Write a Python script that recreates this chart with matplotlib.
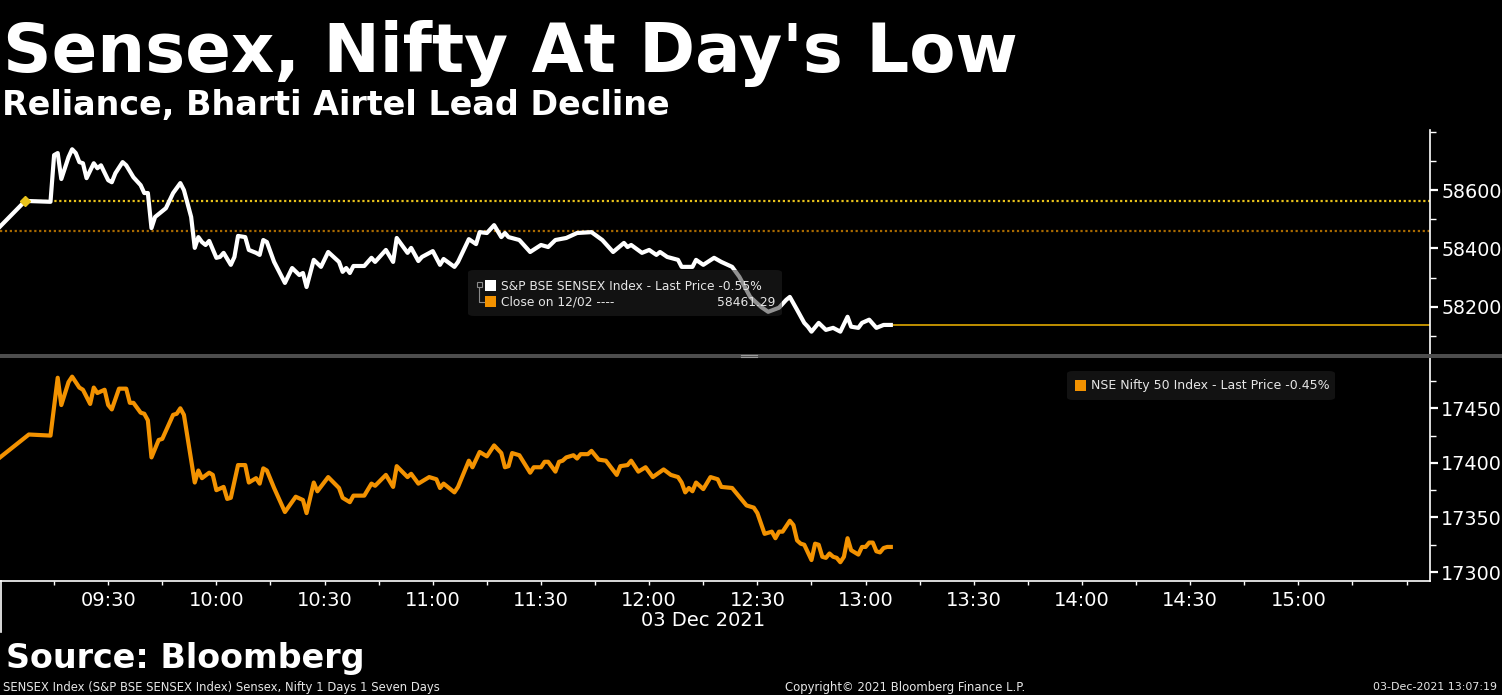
import pandas as pd
import matplotlib
matplotlib.use("Agg")
import matplotlib.pyplot as plt
from matplotlib.patches import FancyBboxPatch, Rectangle
from matplotlib.lines import Line2D

DAY = "2021-12-03 "

sensex_times = ["09:00", "09:07", "09:14", "09:15", "09:16", "09:17", "09:19", "09:20", "09:21", "09:22",
                "09:23", "09:24", "09:26", "09:27", "09:28", "09:30", "09:31", "09:32", "09:34", "09:35",
                "09:37", "09:39", "09:40", "09:41", "09:42", "09:43", "09:45", "09:46", "09:48", "09:50",
                "09:51", "09:53", "09:54", "09:55", "09:56", "09:57", "09:58", "10:00", "10:01", "10:02",
                "10:04", "10:05", "10:06", "10:08", "10:09", "10:11", "10:12", "10:13", "10:14", "10:16",
                "10:19", "10:21", "10:23", "10:24", "10:25", "10:27", "10:29", "10:31", "10:34", "10:35",
                "10:36", "10:37", "10:38", "10:41", "10:43", "10:44", "10:47", "10:49", "10:50", "10:53",
                "10:54", "10:56", "10:57", "11:00", "11:02", "11:03", "11:06", "11:07", "11:10", "11:12",
                "11:13", "11:15", "11:17", "11:19", "11:20", "11:21", "11:24", "11:27", "11:30", "11:32",
                "11:34", "11:37", "11:40", "11:44", "11:47", "11:50", "11:53", "11:54", "11:55", "11:58",
                "12:00", "12:02", "12:03", "12:05", "12:08", "12:09", "12:12", "12:13", "12:15", "12:18",
                "12:20", "12:23", "12:25", "12:28", "12:31", "12:33", "12:36", "12:38", "12:39", "12:41",
                "12:43", "12:44", "12:45", "12:47", "12:49", "12:51", "12:53", "12:55", "12:56", "12:58",
                "12:59", "13:01", "13:03", "13:05", "13:07"]
sensex_vals = [58475, 58563, 58560, 58720, 58727, 58638, 58713, 58740, 58727, 58696,
               58692, 58641, 58692, 58675, 58685, 58634, 58627, 58658, 58696, 58685,
               58644, 58617, 58590, 58590, 58470, 58508, 58528, 58538, 58590, 58624,
               58600, 58508, 58402, 58439, 58422, 58412, 58426, 58368, 58371, 58385,
               58344, 58371, 58443, 58439, 58395, 58385, 58378, 58429, 58422, 58354,
               58282, 58333, 58309, 58316, 58268, 58361, 58337, 58388, 58354, 58320,
               58333, 58316, 58340, 58340, 58368, 58354, 58395, 58354, 58436, 58385,
               58402, 58357, 58371, 58391, 58344, 58364, 58337, 58354, 58432, 58415,
               58456, 58453, 58480, 58439, 58453, 58439, 58429, 58388, 58412, 58405,
               58429, 58436, 58453, 58456, 58429, 58388, 58419, 58405, 58412, 58385,
               58395, 58378, 58388, 58371, 58361, 58337, 58337, 58361, 58344, 58368,
               58354, 58337, 58303, 58234, 58200, 58183, 58197, 58224, 58234, 58190,
               58145, 58132, 58115, 58145, 58121, 58128, 58115, 58166, 58132, 58128,
               58145, 58156, 58128, 58138, 58138]

nifty_times = ["09:00", "09:08", "09:14", "09:16", "09:17", "09:19", "09:20", "09:22", "09:23", "09:25",
               "09:26", "09:27", "09:29", "09:30", "09:31", "09:33", "09:35", "09:36", "09:37", "09:39",
               "09:40", "09:41", "09:42", "09:44", "09:45", "09:48", "09:49", "09:50", "09:51", "09:54",
               "09:55", "09:56", "09:58", "09:59", "10:00", "10:02", "10:03", "10:04", "10:06", "10:08",
               "10:09", "10:11", "10:12", "10:13", "10:14", "10:16", "10:19", "10:22", "10:24", "10:25",
               "10:27", "10:28", "10:31", "10:34", "10:35", "10:37", "10:38", "10:41", "10:43", "10:44",
               "10:47", "10:49", "10:50", "10:53", "10:54", "10:56", "10:59", "11:01", "11:02", "11:03",
               "11:06", "11:07", "11:10", "11:11", "11:13", "11:15", "11:17", "11:19", "11:20", "11:21",
               "11:22", "11:24", "11:27", "11:28", "11:30", "11:31", "11:32", "11:34", "11:35", "11:36",
               "11:37", "11:39", "11:40", "11:41", "11:43", "11:44", "11:46", "11:48", "11:51", "11:52",
               "11:54", "11:55", "11:57", "11:59", "12:01", "12:04", "12:06", "12:08", "12:09", "12:10",
               "12:11", "12:12", "12:13", "12:15", "12:17", "12:19", "12:20", "12:23", "12:25", "12:27",
               "12:29", "12:30", "12:32", "12:34", "12:35", "12:36", "12:37", "12:39", "12:40", "12:41",
               "12:42", "12:43", "12:45", "12:46", "12:47", "12:48", "12:49", "12:50", "12:51", "12:52",
               "12:53", "12:54", "12:55", "12:56", "12:58", "12:59", "13:00", "13:01", "13:02", "13:03",
               "13:04", "13:05", "13:06", "13:07"]
nifty_vals = [17405, 17426, 17425, 17478, 17453, 17474, 17479, 17469, 17467, 17454,
              17469, 17464, 17467, 17453, 17449, 17468, 17468, 17455, 17455, 17446,
              17445, 17439, 17405, 17421, 17422, 17444, 17445, 17450, 17444, 17382,
              17393, 17386, 17391, 17389, 17375, 17378, 17367, 17368, 17398, 17398,
              17382, 17386, 17381, 17395, 17393, 17377, 17355, 17369, 17366, 17354,
              17382, 17374, 17387, 17377, 17368, 17364, 17370, 17370, 17381, 17379,
              17389, 17378, 17397, 17387, 17390, 17381, 17387, 17385, 17377, 17381,
              17373, 17378, 17402, 17396, 17410, 17406, 17416, 17409, 17396, 17397,
              17409, 17407, 17391, 17396, 17396, 17401, 17401, 17392, 17401, 17402,
              17405, 17407, 17404, 17408, 17408, 17411, 17403, 17402, 17389, 17397,
              17398, 17402, 17392, 17396, 17387, 17394, 17389, 17387, 17382, 17373,
              17377, 17374, 17382, 17376, 17387, 17385, 17378, 17377, 17369, 17361,
              17359, 17354, 17335, 17337, 17331, 17337, 17337, 17347, 17343, 17329,
              17326, 17325, 17311, 17326, 17325, 17314, 17313, 17317, 17314, 17313,
              17309, 17314, 17331, 17320, 17316, 17323, 17323, 17327, 17327, 17319,
              17318, 17322, 17323, 17323]

sensex_prev_close = 58461.29
sensex_open_level = 58562
sensex_last = 58138

W, H = 1502, 695


def px(x, y):
    return x / W, 1 - y / H


def t(s):
    return pd.Timestamp(DAY + s)


sx = pd.to_datetime([DAY + s for s in sensex_times])
nx = pd.to_datetime([DAY + s for s in nifty_times])
x0 = t("09:00")
x1 = x0 + pd.Timedelta(minutes=396.5)

WHITE = "#ffffff"
ORANGE = "#f39200"
GOLD = "#e9c21b"
BROWN = "#a96a00"
TXT = "#e6e6e6"

fig = plt.figure(figsize=(W / 100, H / 100), dpi=100, facecolor="black")

ax1 = fig.add_axes([0, 1 - 355 / H, 1430 / W, 225 / H])
ax2 = fig.add_axes([0, 1 - 581 / H, 1430 / W, 224 / H])

for ax in (ax1, ax2):
    ax.set_facecolor("black")
    for side in ("left", "top", "bottom"):
        ax.spines[side].set_visible(False)
    ax.spines["right"].set_color(WHITE)
    ax.spines["right"].set_linewidth(1.2)
    ax.yaxis.tick_right()
    ax.tick_params(axis="y", which="major", colors=WHITE, length=6, width=1.6,
                   labelsize=13.8, pad=2)
    ax.tick_params(axis="y", which="minor", colors=WHITE, length=4, width=1)
    ax.set_xlim(x0, x1)

# Sensex panel
ax1.plot(sx, sensex_vals, color=WHITE, lw=3, solid_joinstyle="round", zorder=3)
ax1.axhline(sensex_prev_close, color=BROWN, lw=1.6, ls=(0, (1, 1.2)), zorder=2)
ax1.hlines(sensex_open_level, t("09:07"), x1, color=GOLD, lw=1.6, ls=(0, (1, 1.2)), zorder=2)
ax1.plot([t("09:07")], [sensex_open_level], marker="D", ms=5, color=GOLD, zorder=4)
ax1.hlines(sensex_last, sx[-1], x1, color="#f2b600", lw=1.1, zorder=2)
ax1.set_ylim(58035, 58806)
ax1.set_yticks([58200, 58400, 58600])
ax1.set_yticks([58100, 58300, 58500, 58700, 58800], minor=True)
ax1.tick_params(axis="x", which="both", bottom=False, labelbottom=False)

# Nifty panel
ax2.plot(nx, nifty_vals, color=ORANGE, lw=3, solid_joinstyle="round", zorder=3)
ax2.set_ylim(17291.8, 17497)
ax2.set_yticks([17300, 17350, 17400, 17450])
ax2.set_yticks([17325, 17375, 17425, 17475], minor=True)
ax2.spines["bottom"].set_visible(True)
ax2.spines["bottom"].set_color(WHITE)
ax2.spines["bottom"].set_linewidth(1.2)

major = pd.date_range(t("09:30"), t("15:30"), freq="30min")
minor = pd.date_range(t("09:15"), t("15:15"), freq="30min")
ax2.set_xticks(major)
ax2.set_xticklabels([d.strftime("%H:%M") if d < t("15:30") else "" for d in major])
ax2.set_xticks(minor, minor=True)
ax2.tick_params(axis="x", which="both", colors=WHITE, length=3, width=1,
                labelsize=14, pad=4, direction="out")

fig.text(*px(703, 620), "03 Dec 2021", color=WHITE, fontsize=14, ha="center", va="center")
fig.add_artist(Line2D([1 / W, 1 / W], [1 - 581 / H, 1 - 632 / H], color=WHITE, lw=1.2))

# separator between panels
fig.add_artist(Rectangle(px(0, 358), 1, 4.5 / H, color="#4d4d4d", lw=0, zorder=5))
for yy in (355.2, 357.4):
    fig.add_artist(Line2D([741 / W, 757 / W], [1 - yy / H] * 2, color="#9a9a9a", lw=0.8, zorder=6))

# legend box 1
fig.add_artist(FancyBboxPatch(px(468, 316), 314 / W, 46 / H,
                              boxstyle="round,pad=0,rounding_size=0.004",
                              fc="#242424", ec="none", alpha=0.5, zorder=6))
fig.add_artist(Rectangle(px(476.5, 287), 5 / W, 5 / H, fc="none", ec="#8a8a8a", lw=0.8, zorder=7))
fig.add_artist(Line2D([479 / W, 479 / W, 484 / W], [1 - 287 / H, 1 - 302 / H, 1 - 302 / H],
                      color="#8a8a8a", lw=0.8, zorder=7))
fig.add_artist(Rectangle(px(485, 291), 11 / W, 11 / H, fc=WHITE, ec="none", zorder=7))
fig.add_artist(Rectangle(px(485, 307), 11 / W, 11 / H, fc=ORANGE, ec="none", zorder=7))
fig.text(*px(501, 286), "S&P BSE SENSEX Index - Last Price -0.55%", color=TXT,
         fontsize=8.8, va="center", zorder=8)
fig.text(*px(501, 302), "Close on 12/02 ----", color=TXT, fontsize=8.8, va="center", zorder=8)
fig.text(*px(775, 302), f"{sensex_prev_close:.2f}", color=TXT, fontsize=8.8,
         ha="right", va="center", zorder=8)

# legend box 2
fig.add_artist(FancyBboxPatch(px(1067, 400), 268 / W, 29 / H,
                              boxstyle="round,pad=0,rounding_size=0.004",
                              fc="#242424", ec="none", alpha=0.5, zorder=6))
fig.add_artist(Rectangle(px(1075, 391), 11 / W, 11 / H, fc=ORANGE, ec="none", zorder=7))
fig.text(*px(1091, 386), "NSE Nifty 50 Index - Last Price -0.45%", color=TXT,
         fontsize=9, va="center", zorder=8)

# titles
fig.text(*px(3, 72), "Sensex, Nifty At Day's Low", color=WHITE, fontsize=48.5,
         fontweight="bold", va="baseline")
fig.text(*px(2, 115), "Reliance, Bharti Airtel Lead Decline", color=WHITE, fontsize=24,
         fontweight="bold", va="baseline")
fig.text(*px(6, 668), "Source: Bloomberg", color=WHITE, fontsize=24,
         fontweight="bold", va="baseline")

# footer
fig.text(*px(3, 687), "SENSEX Index (S&P BSE SENSEX Index) Sensex, Nifty 1 Days 1 Seven Days",
         color=TXT, fontsize=8.4, va="center")
fig.text(*px(905, 687), "Copyright\u00a9 2021 Bloomberg Finance L.P.", color=TXT,
         fontsize=8.4, ha="center", va="center")
fig.text(*px(1497, 687), "03-Dec-2021 13:07:19", color=TXT, fontsize=7.9,
         ha="right", va="center")

fig.savefig("out.png", dpi=100, facecolor="black")
